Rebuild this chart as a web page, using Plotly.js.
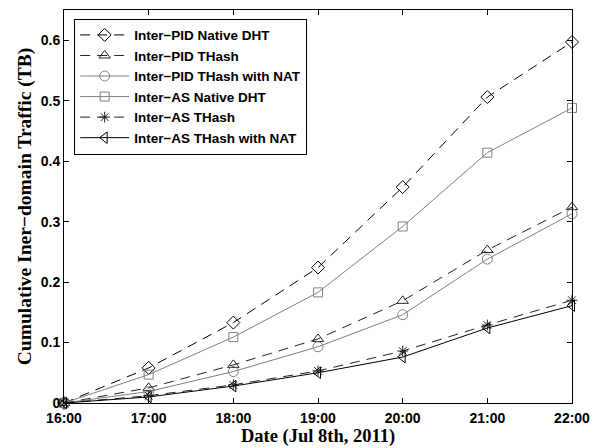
<!DOCTYPE html>
<html><head><meta charset="utf-8">
<script src="https://cdn.plot.ly/plotly-3.0.1.min.js"></script>
<style>html,body{margin:0;padding:0;background:#fff}#c{width:601px;height:448px}</style>
</head><body><div id="c"></div>
<script>
const hours = [16, 17, 18, 19, 20, 21, 22];
const hourLabels = ["16:00", "17:00", "18:00", "19:00", "20:00", "21:00", "22:00"];
const pidNative = [0, 0.058, 0.133, 0.224, 0.357, 0.506, 0.597];
const pidTHash = [0, 0.025, 0.063, 0.106, 0.169, 0.253, 0.324];
const pidTHashNat = [0, 0.019, 0.052, 0.093, 0.146, 0.238, 0.313];
const asNative = [0, 0.047, 0.109, 0.183, 0.292, 0.414, 0.488];
const asTHash = [0, 0.012, 0.030, 0.053, 0.086, 0.129, 0.170];
const asTHashNat = [0, 0.010, 0.028, 0.050, 0.076, 0.124, 0.161];
const names = ["Inter−PID Native DHT", "Inter−PID THash", "Inter−PID THash with NAT",
  "Inter−AS Native DHT", "Inter−AS THash", "Inter−AS THash with NAT"];
const series = [pidNative, pidTHash, pidTHashNat, asNative, asTHash, asTHashNat];
const styles = [
  {c: "#000", d: "10px,7px", s: "diamond-open", sz: 10},
  {c: "#222", d: "10px,7px", s: "triangle-up-open", sz: 10},
  {c: "#808080", d: "solid", s: "circle-open", sz: 10},
  {c: "#808080", d: "solid", s: "square-open", sz: 9},
  {c: "#222", d: "10px,7px", s: "asterisk-open", sz: 9},
  {c: "#000", d: "solid", s: "triangle-left-open", sz: 10}
];
const traces = series.map((v, i) => ({
  x: hours, y: v, name: names[i], type: "scatter", mode: "lines+markers",
  line: {color: styles[i].c, width: 1, dash: styles[i].d},
  marker: {symbol: styles[i].s, size: styles[i].sz, color: styles[i].c, line: {color: styles[i].c, width: 1}},
  cliponaxis: false
}));
const tickFont = {family: "Liberation Sans, Arial, sans-serif", size: 14, color: "#000", weight: "bold"};
const serif = "Liberation Serif, Times New Roman, serif";
const layout = {
  width: 601, height: 448,
  margin: {l: 64, r: 29, t: 10, b: 45},
  paper_bgcolor: "#fff", plot_bgcolor: "#fff",
  showlegend: true,
  legend: {x: 0.02, y: 0.978, xanchor: "left", yanchor: "top",
    bgcolor: "#fff", bordercolor: "#000", borderwidth: 1,
    font: {family: "Liberation Sans, Arial, sans-serif", size: 13.5, color: "#000", weight: "bold"},
    tracegroupgap: 0, itemwidth: 49},
  xaxis: {range: [16, 22], tickvals: hours, ticktext: hourLabels,
    ticks: "inside", ticklen: 5, tickcolor: "#000", mirror: "ticks",
    showline: true, linecolor: "#000", linewidth: 1, showgrid: false, zeroline: false,
    tickfont: tickFont, ticklabelstandoff: 2,
    title: {text: "Date (Jul 8th, 2011)", font: {family: serif, size: 18.5, color: "#000", weight: "bold"}, standoff: 0}},
  yaxis: {range: [0, 0.65], tickvals: [0, 0.1, 0.2, 0.3, 0.4, 0.5, 0.6],
    ticktext: ["0", "0.1", "0.2", "0.3", "0.4", "0.5", "0.6"],
    ticks: "inside", ticklen: 5, tickcolor: "#000", mirror: "ticks",
    showline: true, linecolor: "#000", linewidth: 1, showgrid: false, zeroline: false,
    tickfont: tickFont,
    title: {text: "Cumulative Iner−domain Traffic (TB)", font: {family: serif, size: 19.5, color: "#000", weight: "bold"}, standoff: 3}}
};
Plotly.newPlot("c", traces, layout, {displayModeBar: false, staticPlot: true});
</script></body></html>
